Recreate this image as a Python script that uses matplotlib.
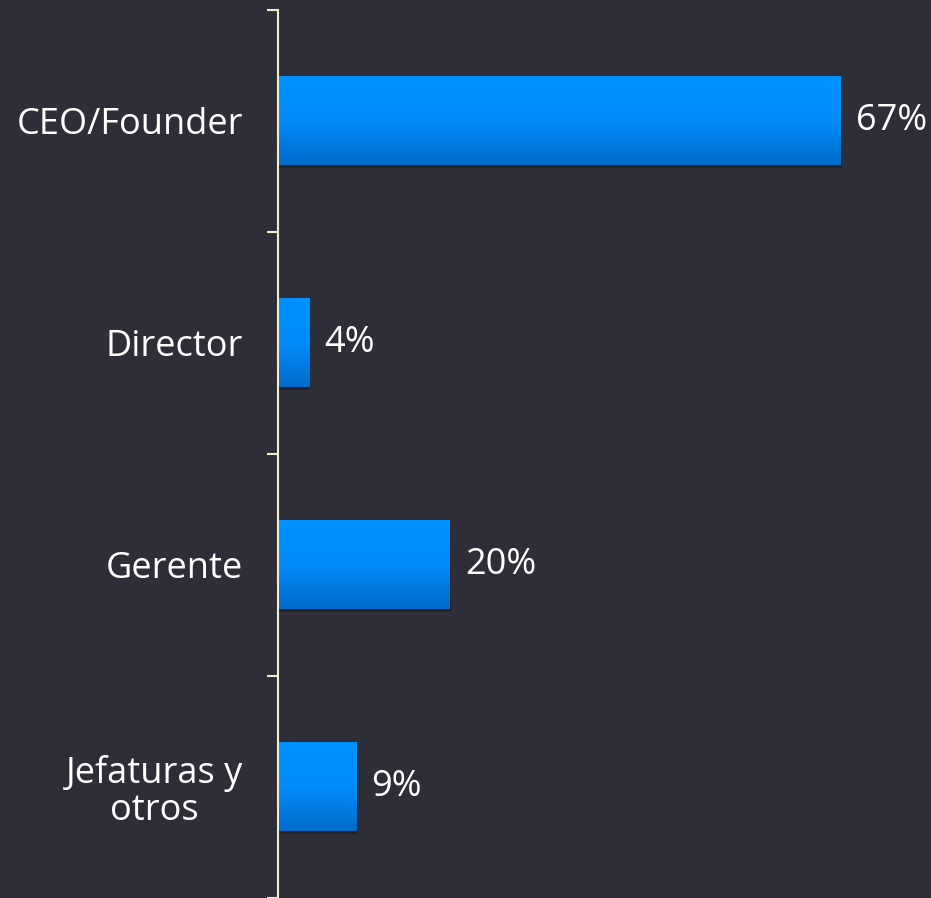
import numpy as np
import matplotlib.pyplot as plt
from matplotlib.colors import LinearSegmentedColormap

categories = ["CEO/Founder", "Director", "Gerente", "Jefaturas y\notros"]
values = [66.8, 3.7, 20.4, 9.3]
value_labels = ["67%", "4%", "20%", "9%"]

BG = "#2e2e38"
AXIS_COLOR = "#f2eccb"
TEXT_COLOR = "white"

plt.rcParams['font.family'] = ['Open Sans', 'DejaVu Sans']

fig = plt.figure(figsize=(9.31, 8.98), dpi=100, facecolor=BG)
ax = fig.add_axes([278 / 931, 0, 1 - 278 / 931, 1 - 10 / 898])
ax.set_facecolor(BG)

bar_h = 0.4
ypos = np.arange(len(categories))

# gradient top -> bottom
grad_cmap = LinearSegmentedColormap.from_list("g", ["#0092ff", "#008cf8", "#006bcc"])
grad = np.linspace(0, 1, 256).reshape(-1, 1)

for y, v in zip(ypos, values):
    # soft shadow
    ax.barh(y + 0.012, v, height=bar_h, left=0.15, color="black", alpha=0.25, zorder=1)
    ax.imshow(grad, cmap=grad_cmap, aspect="auto",
              extent=(0, v, y + bar_h / 2, y - bar_h / 2), zorder=2)

for y, v, lab in zip(ypos, values, value_labels):
    ax.annotate(lab, xy=(v, y), xytext=(11, 0), textcoords="offset points",
                va="center", ha="left", color=TEXT_COLOR, fontsize=26)

ax.set_xlim(0, 653 / 8.42)
ax.set_ylim(len(categories) - 0.5, -0.5)

ax.set_yticks(ypos)
ax.set_yticklabels(categories, fontsize=26, color=TEXT_COLOR, multialignment="center",
                   linespacing=1.05)
ax.tick_params(axis="y", which="major", length=0, pad=25)
ax.set_yticks(np.arange(len(categories) + 1) - 0.5, minor=True)
ax.tick_params(axis="y", which="minor", length=8, width=1.5, color=AXIS_COLOR, direction="out")
ax.set_xticks([])

for side in ["top", "right", "bottom"]:
    ax.spines[side].set_visible(False)
ax.spines["left"].set_color(AXIS_COLOR)
ax.spines["left"].set_linewidth(1.5)

fig.savefig("out.png", dpi=100, facecolor=BG)
